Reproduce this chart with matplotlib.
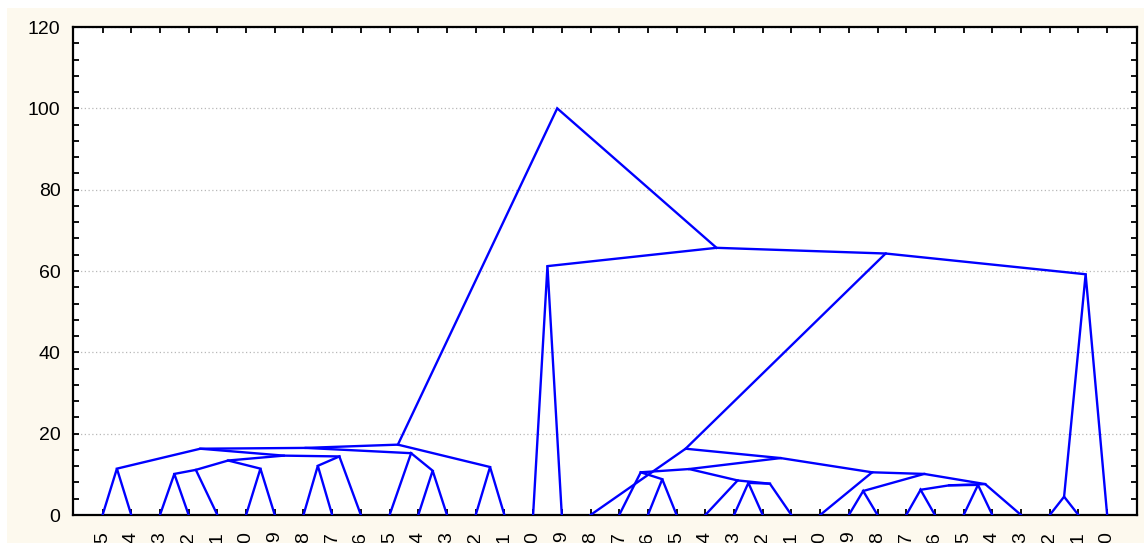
import matplotlib
matplotlib.use("Agg")
import matplotlib.pyplot as plt
from matplotlib.patches import Rectangle
from matplotlib.ticker import MultipleLocator, FixedLocator

plt.rcParams['font.family'] = ['Liberation Sans', 'DejaVu Sans']

# Leaf labels (left to right)
leaf_labels = ['5', '4', '3', '2', '1', '0', '9', '8', '7', '6',
               '5', '4', '3', '2', '1', '0', '9', '8', '7', '6',
               '5', '4', '3', '2', '1', '0', '9', '8', '7', '6',
               '5', '4', '3', '2', '1', '0']

# Merges: ids 0..35 are leaves, merge k creates node 36+k
merge_left = [0, 2, 37, 5, 38, 7, 41, 40, 36, 11, 10, 44, 13, 47, 15,
              19, 18, 22, 53, 21, 52, 26, 28, 30, 58, 60, 57, 25, 56, 17,
              33, 66, 65, 50, 49]
merge_right = [1, 3, 4, 6, 39, 8, 9, 42, 43, 12, 45, 46, 14, 48, 16,
               20, 51, 23, 24, 54, 55, 27, 29, 31, 59, 32, 61, 62, 63, 64,
               34, 35, 67, 68, 69]
merge_height = [11.4, 10.1, 11.1, 11.4, 13.4, 12.1, 14.4, 14.6, 16.3, 10.9,
                15.2, 16.5, 11.8, 17.3, 61.2,
                8.8, 10.5, 7.9, 7.7, 8.5, 11.3, 5.9, 6.2, 7.4, 7.3, 7.6,
                10.1, 10.5, 14.0, 16.3,
                4.5, 59.2, 64.3, 65.7, 100.0]

W, H = 1144, 543
fig = plt.figure(figsize=(W / 100, H / 100), dpi=100, facecolor='white')
fig.add_artist(Rectangle((7 / W, 0), 1 - 7 / W, 1 - 8 / H, transform=fig.transFigure,
                         facecolor='#fdf9ee', edgecolor='none', zorder=0))

ax = fig.add_axes([73 / W, (H - 515) / H, (1137 - 73) / W, (515 - 27) / H])
ax.set_facecolor('white')

n_leaves = len(leaf_labels)
xs = {i: float(i) for i in range(n_leaves)}
hs = {i: 0.0 for i in range(n_leaves)}
for k, (a, b, h) in enumerate(zip(merge_left, merge_right, merge_height)):
    nid = n_leaves + k
    xs[nid] = (xs[a] + xs[b]) / 2.0
    hs[nid] = h
    ax.plot([xs[a], xs[nid], xs[b]], [hs[a], hs[nid], hs[b]],
            color='#0000ff', linewidth=1.7, solid_joinstyle='miter', zorder=3)

ax.set_xlim(-1.03, 36.04)
ax.set_ylim(0, 120)
ax.xaxis.set_major_locator(FixedLocator(list(range(n_leaves))))
ax.set_xticklabels(leaf_labels, rotation=90, fontsize=14)
ax.yaxis.set_major_locator(MultipleLocator(20))
ax.yaxis.set_minor_locator(MultipleLocator(4))
ax.tick_params(axis='both', which='both', direction='in', top=True, right=True,
               length=4, width=1.3, color='black')
ax.tick_params(axis='y', which='major', labelsize=14, pad=9)
ax.tick_params(axis='x', which='major', pad=12)
ax.yaxis.grid(True, which='major', linestyle=(0, (1, 2)), color='#b8b8b8', linewidth=0.9)
ax.set_axisbelow(True)
for s in ax.spines.values():
    s.set_linewidth(1.6)
    s.set_color('black')

fig.savefig('out.png', dpi=100, facecolor=fig.get_facecolor())
